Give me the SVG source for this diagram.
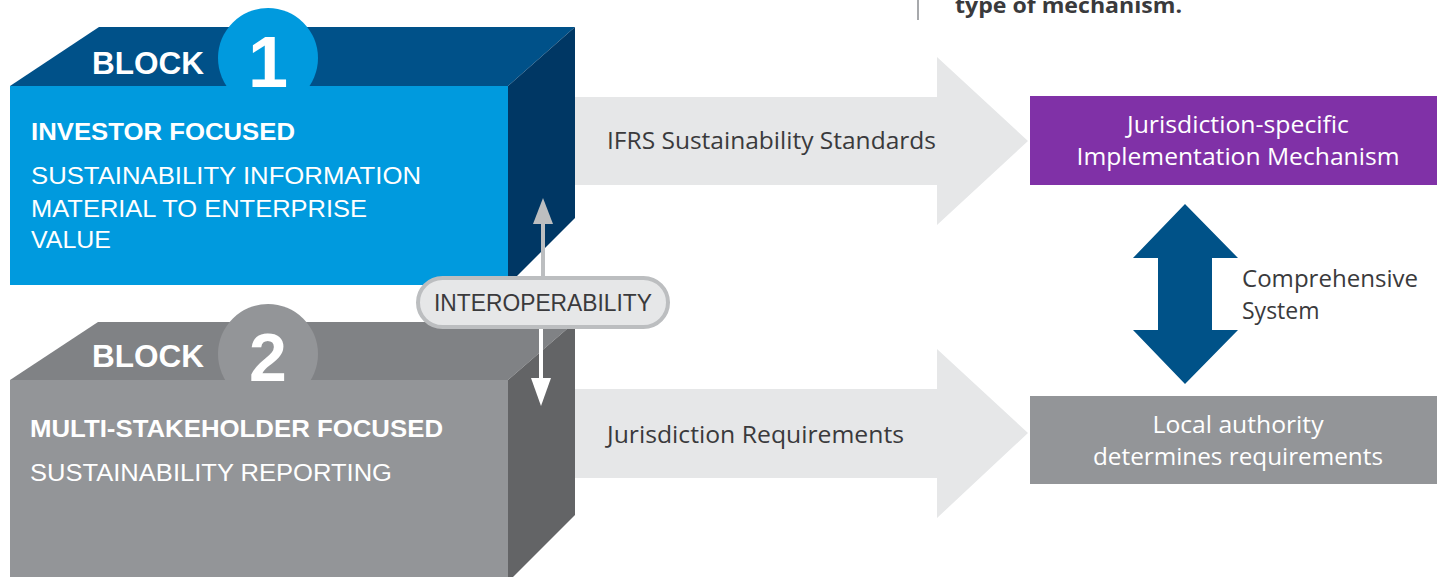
<svg xmlns="http://www.w3.org/2000/svg" width="1437" height="577" viewBox="0 0 1437 577">
  <defs>
    <style>
      .blk { font-family: "Liberation Sans", Arial, sans-serif; fill: #ffffff; }
      .b { font-weight: bold; }
      .cap { font-size: 23px; }
      .hum { font-family: "Open Sans", "Noto Sans", sans-serif; font-size: 23px; }
      .dark { fill: #3a3a3c; }
      .wh { fill: #ffffff; }
      .flow { fill: #e6e7e8; }
    </style>
  </defs>

  <rect width="1437" height="577" fill="#ffffff"/>

  <!-- caption fragment at the top edge -->
  <g id="caption">
    <rect x="917" y="0" width="2" height="20" fill="#a7a9ac"/>
    <text x="955" y="13" font-family="'Open Sans', 'Noto Sans', sans-serif" font-weight="bold" font-size="22" fill="#3a3a3c" textLength="227" lengthAdjust="spacingAndGlyphs">type of mechanism.</text>
  </g>

  <!-- flow arrows and connectors -->
  <g id="connectors">
    <path class="flow" d="M575,97 L937,97 L937,57 L1028,141 L937,225 L937,185 L575,185 Z"/>
    <path class="flow" d="M575,389 L937,389 L937,349 L1028,433 L937,518 L937,478 L575,478 Z"/>
    <path d="M1185,204 L1238,258 L1212,258 L1212,330 L1238,330 L1185,384 L1133,330 L1158,330 L1158,258 L1133,258 Z" fill="#005288"/>
  </g>

  <!-- Block 1 -->
  <g id="block1">
    <polygon points="10,86 99,27 575,27 508,86" fill="#005189"/>
    <polygon points="508,86 575,27 575,218 508,285" fill="#003764"/>
    <circle cx="268" cy="58" r="50" fill="#009ade"/>
    <rect x="10" y="86" width="498" height="199" fill="#009ade"/>
    <text class="blk b" x="92" y="74" font-size="32" textLength="112" lengthAdjust="spacingAndGlyphs">BLOCK</text>
    <text class="blk b" x="268" y="87" font-size="72" text-anchor="middle">1</text>
    <text class="blk b cap" x="31" y="140" textLength="264" lengthAdjust="spacingAndGlyphs">INVESTOR FOCUSED</text>
    <text class="blk cap" x="31" y="184" textLength="390" lengthAdjust="spacingAndGlyphs">SUSTAINABILITY INFORMATION</text>
    <text class="blk cap" x="31" y="217" textLength="336" lengthAdjust="spacingAndGlyphs">MATERIAL TO ENTERPRISE</text>
    <text class="blk cap" x="31" y="248" textLength="80" lengthAdjust="spacingAndGlyphs">VALUE</text>
  </g>

  <!-- Block 2 -->
  <g id="block2">
    <polygon points="10,380 98,322 575,322 508,380" fill="#808285"/>
    <polygon points="508,380 575,322 575,515 513,577 508,577" fill="#636466"/>
    <circle cx="268" cy="354" r="50" fill="#939598"/>
    <rect x="10" y="380" width="498" height="197" fill="#939598"/>
    <text class="blk b" x="92" y="367" font-size="32" textLength="112" lengthAdjust="spacingAndGlyphs">BLOCK</text>
    <text class="blk b" x="268" y="381" font-size="68" text-anchor="middle">2</text>
    <text class="blk b cap" x="30" y="437" textLength="413" lengthAdjust="spacingAndGlyphs">MULTI-STAKEHOLDER FOCUSED</text>
    <text class="blk cap" x="30" y="481" textLength="362" lengthAdjust="spacingAndGlyphs">SUSTAINABILITY REPORTING</text>
  </g>

  <!-- interoperability link between the blocks -->
  <g id="interoperability">
    <line x1="543" y1="278" x2="543" y2="214" stroke="#bcbec0" stroke-width="4"/>
    <path d="M533,224 L543,198 L553,224 Z" fill="#bcbec0"/>
    <line x1="541" y1="328" x2="541" y2="390" stroke="#ffffff" stroke-width="4"/>
    <path d="M531,378 L541,406 L551,378 Z" fill="#ffffff"/>
    <rect x="418" y="278" width="250" height="49" rx="24.5" fill="#e6e7e8" stroke="#bcbec0" stroke-width="4"/>
    <text x="543" y="311" font-family="'Liberation Sans', Arial, sans-serif" font-size="24" fill="#3a3a3c" text-anchor="middle" textLength="218" lengthAdjust="spacingAndGlyphs">INTEROPERABILITY</text>
  </g>

  <!-- flow labels -->
  <g id="label-ifrs">
    <text class="hum dark" x="607" y="149" textLength="329" lengthAdjust="spacingAndGlyphs">IFRS Sustainability Standards</text>
  </g>
  <g id="label-jurisdiction">
    <text class="hum dark" x="607" y="443" textLength="297" lengthAdjust="spacingAndGlyphs">Jurisdiction Requirements</text>
  </g>

  <!-- implementation mechanism -->
  <g id="mechanism">
    <rect x="1030" y="96" width="407" height="89" fill="#8031a7"/>
    <text class="hum wh" x="1238" y="133" text-anchor="middle" textLength="222" lengthAdjust="spacingAndGlyphs">Jurisdiction-specific</text>
    <text class="hum wh" x="1238" y="165" text-anchor="middle" textLength="323" lengthAdjust="spacingAndGlyphs">Implementation Mechanism</text>
  </g>

  <g id="comprehensive">
    <text class="hum dark" x="1242" y="287" textLength="176" lengthAdjust="spacingAndGlyphs">Comprehensive</text>
    <text class="hum dark" x="1242" y="319">System</text>
  </g>

  <!-- local authority -->
  <g id="local-authority">
    <rect x="1030" y="396" width="407" height="88" fill="#939598"/>
    <text class="hum wh" x="1238" y="433" text-anchor="middle" textLength="171" lengthAdjust="spacingAndGlyphs">Local authority</text>
    <text class="hum wh" x="1238" y="465" text-anchor="middle" textLength="290" lengthAdjust="spacingAndGlyphs">determines requirements</text>
  </g>
</svg>
